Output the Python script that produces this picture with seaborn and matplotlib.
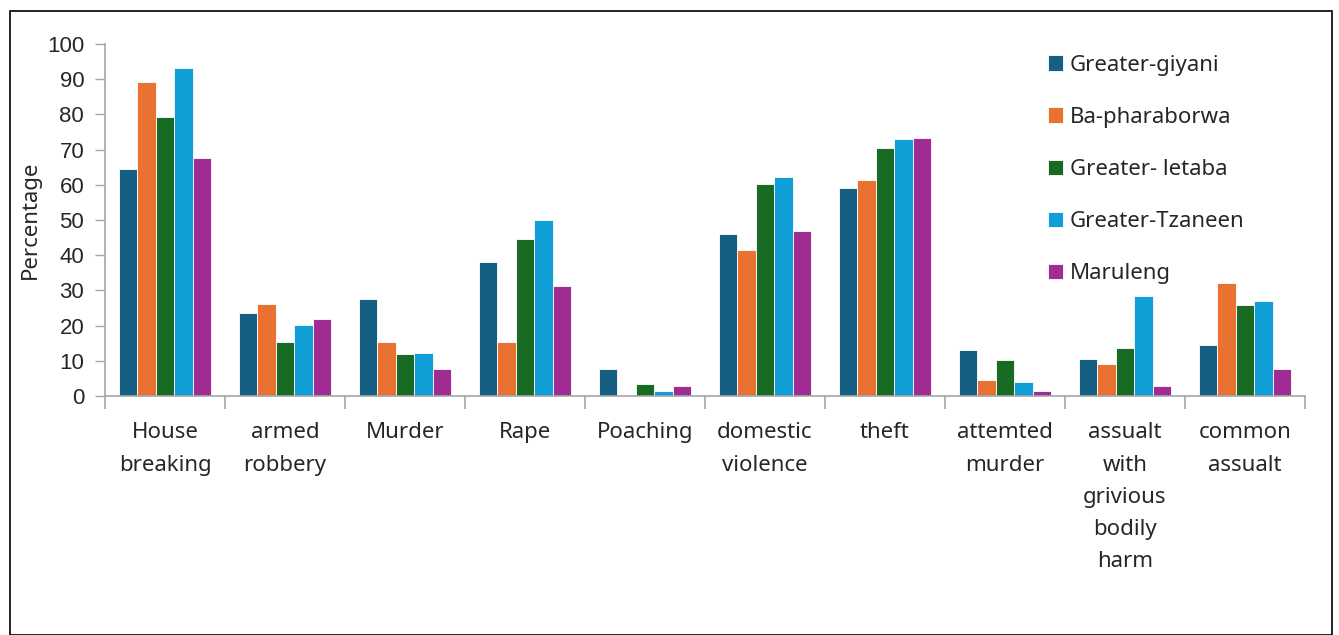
import seaborn as sns
import pandas as pd
import matplotlib
import matplotlib.pyplot as plt
import matplotlib.patches as patches

matplotlib.use('Agg')

categories = ['House\nbreaking', 'armed\nrobbery', 'Murder', 'Rape', 'Poaching',
              'domestic\nviolence', 'theft', 'attemted\nmurder',
              'assualt\nwith\ngrivious\nbodily\nharm', 'common\nassualt']
series = ['Greater-giyani', 'Ba-pharaborwa', 'Greater- letaba', 'Greater-Tzaneen', 'Maruleng']

giyani = [64.4, 23.5, 27.5, 38.1, 7.8, 45.9, 59.1, 13.1, 10.4, 14.4]
pharaborwa = [89.1, 26.0, 15.2, 15.2, 0.0, 41.4, 61.4, 4.5, 9.1, 32.2]
letaba = [79.2, 15.3, 11.9, 44.6, 3.3, 60.2, 70.5, 10.1, 13.6, 25.8]
tzaneen = [93.1, 20.1, 12.1, 49.9, 1.3, 62.2, 72.9, 4.0, 28.3, 26.9]
maruleng = [67.5, 21.8, 7.7, 31.3, 2.9, 46.8, 73.3, 1.4, 2.9, 7.7]

colors = ['#156082', '#E97132', '#196B24', '#0F9ED5', '#A02B93']

rows = []
for name, vals in zip(series, [giyani, pharaborwa, letaba, tzaneen, maruleng]):
    for cat, v in zip(categories, vals):
        rows.append({'crime': cat, 'municipality': name, 'pct': v})
df = pd.DataFrame(rows)

sns.set_style('white')
plt.rcParams['font.family'] = ['Noto Sans', 'DejaVu Sans']

fig = plt.figure(figsize=(13.39, 6.35), dpi=100)
ax = fig.add_axes([105 / 1339, 1 - 396 / 635, 1200 / 1339, 352 / 635])

sns.barplot(data=df, x='crime', y='pct', hue='municipality', hue_order=series,
            palette=colors, width=0.77, saturation=1, ax=ax,
            edgecolor='white', linewidth=0.6, errorbar=None)

ax.set_ylim(0, 100)
ax.set_xlim(-0.5, len(categories) - 0.5)
ax.set_yticks(range(0, 101, 10))
ax.set_yticklabels([str(v) for v in range(0, 101, 10)], fontsize=16,
                   family=['Liberation Sans', 'DejaVu Sans'])
ax.tick_params(axis='y', length=7, color='#A6A6A6', width=1, left=True, pad=8)
ax.tick_params(axis='x', length=0, pad=19, labelsize=16)
ax.set_xticks(range(len(categories)))
ax.set_xticklabels(categories, linespacing=1.7, va='top')
ax.set_xticks([i + 0.5 for i in range(-1, len(categories))], minor=True)
ax.tick_params(axis='x', which='minor', length=9, color='#A6A6A6', width=1.2, bottom=True)

ax.set_xlabel('')
ax.set_ylabel('Percentage', fontsize=16, labelpad=4)

for side in ['top', 'right']:
    ax.spines[side].set_visible(False)
for side in ['left', 'bottom']:
    ax.spines[side].set_color('#A6A6A6')
    ax.spines[side].set_linewidth(1.2)

ax.legend(title=None, loc='upper left', bbox_to_anchor=(1039 / 1339, 1 - 46 / 635),
          bbox_transform=fig.transFigure, frameon=False, fontsize=16,
          handlelength=0.7, handleheight=0.7, handletextpad=0.3,
          labelspacing=1.4, borderaxespad=0)

fig.patches.append(patches.Rectangle((10 / 1339, 0.5 / 635), 1322 / 1339, 624 / 635,
                                     transform=fig.transFigure, fill=False,
                                     edgecolor='black', linewidth=1.2))

fig.savefig('out.png', dpi=100)
plt.close()
